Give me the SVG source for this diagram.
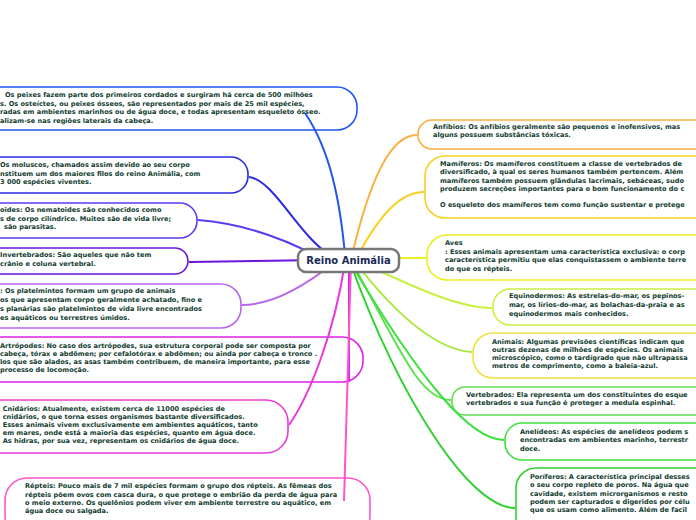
<svg xmlns="http://www.w3.org/2000/svg" width="696" height="520" viewBox="0 0 696 520">
<style>
.t{font-family:"DejaVu Sans",Verdana,sans-serif;font-weight:bold;font-size:6.6px;fill:#123d2f}
.b{fill:#fff;stroke-width:1.6}
.c{fill:none;stroke-width:2}
.ct{font-family:"DejaVu Sans",Verdana,sans-serif;font-weight:bold;font-size:10px;fill:#1b2a57}
</style>
<rect width="696" height="520" fill="#fff"/>
<g id="peixes">
<rect class="b" stroke="#2255ee" x="-30" y="87" width="387" height="43" rx="20"/>
<text class="t" x="5" y="97">Os peixes fazem parte dos primeiros cordados e surgiram há cerca de 500 milhões</text>
<text class="t" x="0" y="105.5">s. Os osteíctes, ou peixes ósseos, são representados por mais de 25 mil espécies,</text>
<text class="t" x="0" y="114">radas em ambientes marinhos ou de água doce, e todas apresentam esqueleto ósseo.</text>
<text class="t" x="0" y="122.5">alizam-se nas regiões laterais da cabeça.</text>
</g>
<g id="moluscos">
<rect class="b" stroke="#2a2ae0" x="-30" y="157" width="278" height="36" rx="17"/>
<text class="t" x="0" y="167">Os moluscos, chamados assim devido ao seu corpo</text>
<text class="t" x="0" y="175.5">nstituem um dos maiores filos do reino Animália, com</text>
<text class="t" x="0" y="184">3 000 espécies viventes.</text>
</g>
<g id="nematoides">
<rect class="b" stroke="#5a3cf0" x="-30" y="203" width="227" height="35" rx="17"/>
<text class="t" x="0" y="212">oides: Os nematoides são conhecidos como</text>
<text class="t" x="0" y="220.5">s de corpo cilíndrico. Muitos são de vida livre;</text>
<text class="t" x="4" y="229">são parasitas.</text>
</g>
<g id="invertebrados">
<rect class="b" stroke="#6a14dc" x="-30" y="248" width="218" height="26" rx="13"/>
<text class="t" x="0" y="257">Invertebrados: São aqueles que não tem</text>
<text class="t" x="0" y="265.7">crânio e coluna vertebral.</text>
</g>
<g id="platelmintos">
<rect class="b" stroke="#b866f0" x="-30" y="284" width="271" height="44" rx="20"/>
<text class="t" x="0" y="293">: Os platelmintos formam um grupo de animais</text>
<text class="t" x="0" y="302">os que apresentam corpo geralmente achatado, fino e</text>
<text class="t" x="0" y="311">s planárias são platelmintos de vida livre encontrados</text>
<text class="t" x="0" y="320">es aquáticos ou terrestres úmidos.</text>
</g>
<g id="artropodes">
<rect class="b" stroke="#e020e8" x="-30" y="337" width="393" height="45" rx="21"/>
<text class="t" x="0" y="348">Artrópodes: No caso dos artrópodes, sua estrutura corporal pode ser composta por</text>
<text class="t" x="0" y="356">cabeça, tórax e abdômen; por cefalotórax e abdômen; ou ainda por cabeça e tronco .</text>
<text class="t" x="0" y="364">los que são alados, as asas também contribuem, de maneira importante, para esse</text>
<text class="t" x="0" y="372">processo de locomoção.</text>
</g>
<g id="cnidarios">
<rect class="b" stroke="#e83ad8" x="-30" y="400" width="318" height="53" rx="22"/>
<text class="t" x="2.7" y="410.7">Cnidários: Atualmente, existem cerca de 11000 espécies de</text>
<text class="t" x="2.7" y="418.7">cnidários, o que torna esses organismos bastante diversificados.</text>
<text class="t" x="2.7" y="426.7">Esses animais vivem exclusivamente em ambientes aquáticos, tanto</text>
<text class="t" x="2.7" y="435">em mares, onde está a maioria das espécies, quanto em água doce.</text>
<text class="t" x="2.7" y="443.3">As hidras, por sua vez, representam os cnidários de água doce.</text>
</g>
<g id="repteis">
<rect class="b" stroke="#ff55cc" x="5" y="478" width="365" height="60" rx="22"/>
<text class="t" x="25" y="488.3">Répteis: Pouco mais de 7 mil espécies formam o grupo dos répteis. As fêmeas dos</text>
<text class="t" x="25" y="496.7">répteis põem ovos com casca dura, o que protege o embrião da perda de água para</text>
<text class="t" x="25" y="505">o meio externo. Os quelônios podem viver em ambiente terrestre ou aquático, em</text>
<text class="t" x="25" y="513.3">água doce ou salgada.</text>
</g>
<g id="anfibios">
<rect class="b" stroke="#f8b040" x="418" y="120" width="310" height="29" rx="14"/>
<text class="t" x="433" y="128.7">Anfíbios: Os anfíbios geralmente são pequenos e inofensivos, mas</text>
<text class="t" x="433" y="137">alguns possuem substâncias tóxicas.</text>
</g>
<g id="mamiferos">
<rect class="b" stroke="#f8d020" x="425" y="156" width="310" height="62" rx="20"/>
<text class="t" x="440" y="166">Mamíferos: Os mamíferos constituem a classe de vertebrados de</text>
<text class="t" x="440" y="174.3">diversificado, à qual os seres humanos também pertencem. Além</text>
<text class="t" x="440" y="182.6">mamíferos também possuem glândulas lacrimais, sebáceas, sudo</text>
<text class="t" x="440" y="190.9">produzem secreções importantes para o bom funcionamento do c</text>
<text class="t" x="440" y="207.3">O esqueleto dos mamíferos tem como função sustentar e protege</text>
</g>
<g id="aves">
<rect class="b" stroke="#e8f020" x="427" y="235" width="310" height="45" rx="20"/>
<text class="t" x="445" y="245">Aves</text>
<text class="t" x="445" y="254">: Esses animais apresentam uma característica exclusiva: o corp</text>
<text class="t" x="445" y="262.3">característica permitiu que elas conquistassem o ambiente terre</text>
<text class="t" x="445" y="270.5">do que os répteis.</text>
</g>
<g id="equinodermos">
<rect class="b" stroke="#c8f040" x="493" y="289" width="260" height="36" rx="17"/>
<text class="t" x="509" y="298.3">Equinodermos: As estrelas-do-mar, os pepinos-</text>
<text class="t" x="509" y="307">mar, os lírios-do-mar, as bolachas-da-praia e as</text>
<text class="t" x="509" y="316">equinodermos mais conhecidos.</text>
</g>
<g id="animais">
<rect class="b" stroke="#f0e040" x="473" y="333" width="260" height="45" rx="20"/>
<text class="t" x="492" y="344">Animais: Algumas previsões científicas indicam que</text>
<text class="t" x="492" y="352">outras dezenas de milhões de espécies. Os animais</text>
<text class="t" x="492" y="360">microscópico, como o tardígrado que não ultrapassa</text>
<text class="t" x="492" y="368.3">metros de comprimento, como a baleia-azul.</text>
</g>
<g id="vertebrados">
<rect class="b" stroke="#60e050" x="452" y="387" width="280" height="28" rx="13"/>
<text class="t" x="466" y="396.7">Vertebrados: Ela representa um dos constituintes do esque</text>
<text class="t" x="466" y="405">vertebrados e sua função é proteger a medula espinhal.</text>
</g>
<g id="anelideos">
<rect class="b" stroke="#40e040" x="505" y="423" width="230" height="37" rx="17"/>
<text class="t" x="520" y="434">Anelídeos: As espécies de anelídeos podem s</text>
<text class="t" x="520" y="442.3">encontradas em ambientes marinho, terrestr</text>
<text class="t" x="520" y="450.7">doce.</text>
</g>
<g id="poriferos">
<rect class="b" stroke="#30d030" x="516" y="468" width="220" height="70" rx="20"/>
<text class="t" x="530" y="479">Poríferos: A característica principal desses</text>
<text class="t" x="530" y="487.3">o seu corpo repleto de poros. Na água que</text>
<text class="t" x="530" y="495.7">cavidade, existem microrganismos e resto</text>
<text class="t" x="530" y="504">podem ser capturados e digeridos por célu</text>
<text class="t" x="530" y="512.3">que os usam como alimento. Além de facil</text>
</g>
<g id="connectors">
<path class="c" stroke="#2255ee" d="M345,255 C340,200 330,150 305,113"/>
<path class="c" stroke="#2a2ae0" d="M335,258 C300,240 275,180 249,177"/>
<path class="c" stroke="#5a3cf0" d="M320,258 Q260,225 198,220"/>
<path class="c" stroke="#6a14dc" d="M320,260 L189,262"/>
<path class="c" stroke="#b866f0" d="M335,262 C300,290 270,305 242,305"/>
<path class="c" stroke="#e020e8" d="M349,262 L349,382"/>
<path class="c" stroke="#e83ad8" d="M345,262 C335,330 310,395 289,425"/>
<path class="c" stroke="#ff55cc" d="M351,262 L344,501"/>
<path class="c" stroke="#f8b040" d="M352,255 C370,180 390,135 417,135"/>
<path class="c" stroke="#f8d020" d="M358,255 C380,215 400,192 424,192"/>
<path class="c" stroke="#e8f020" d="M350,258 L426,258"/>
<path class="c" stroke="#c8f040" d="M360,262 C420,290 460,308 492,308"/>
<path class="c" stroke="#a8e840" d="M355,262 C400,320 440,350 472,352"/>
<path class="c" stroke="#60e050" d="M352,262 C400,350 420,400 451,400"/>
<path class="c" stroke="#40e040" d="M350,262 C420,380 470,440 504,440"/>
<path class="c" stroke="#30d030" d="M350,262 C400,400 470,508 515,508"/>
</g>
<g id="center">
<rect x="298" y="249" width="101" height="23" rx="8" fill="#fff" stroke="#777" stroke-width="2.5"/>
<text class="ct" x="348.5" y="264.3" text-anchor="middle">Reino Animália</text>
</g>
</svg>
